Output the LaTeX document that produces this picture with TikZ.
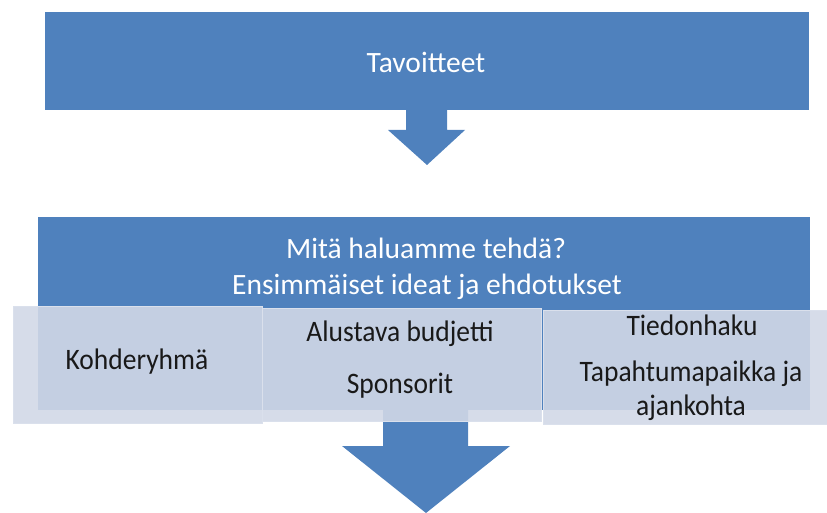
\documentclass[tikz,border=0pt]{standalone}
\usepackage{fontspec}
\setmainfont{Carlito}
\definecolor{blu}{RGB}{79,129,189}
\definecolor{lite}{RGB}{209,216,231}
\definecolor{rim}{RGB}{218,224,236}
\newcommand{\tall}[1]{\scalebox{1}[1.08]{#1}}
\begin{document}
\begin{tikzpicture}[x=1pt,y=-1pt,
  bluebox/.style={fill=blu,draw=none,inner sep=0pt},
  litebox/.style={fill=lite,fill opacity=0.9,draw=rim,line width=1pt,inner sep=0pt},
  wtxt/.style={text=white,font=\fontsize{29.5}{36}\selectfont,align=center,inner sep=0pt},
  btxt/.style={text=black!90,font=\fontsize{27.5}{34}\selectfont,align=center,inner sep=0pt},
  arr/.style={fill=blu,draw=none}]
\useasboundingbox (0,0) rectangle (827,513);
% top box
\node[bluebox,minimum width=764pt,minimum height=98pt] (top) at (427,61) {};
\node[wtxt] (toptxt) at (426,62) {Tavoitteet};
% arrow 1
\fill[arr] (406,109) -- (406,130) -- (388,130) -- (427,165) -- (465,130) -- (447,130) -- (447,109) -- cycle;
% second blue box
\node[bluebox,minimum width=772pt,minimum height=193pt] (mid) at (424,313.5) {};
\node[wtxt] (l1) at (426,248) {Mitä haluamme tehdä?};
\node[wtxt] (l2) at (427,287) {Ensimmäiset ideat ja ehdotukset};
% arrow 2
\fill[arr] (383,405) -- (383,446) -- (342,446) -- (426,513) -- (510,446) -- (468,446) -- (468,405) -- cycle;
% light boxes
\node[litebox,minimum width=249pt,minimum height=117pt] (k) at (137.5,364.5) {};
\node[litebox,minimum width=279pt,minimum height=113pt] (b) at (401.5,364.5) {};
\node[litebox,minimum width=286pt,minimum height=114pt] (t) at (686,367) {};
\node[btxt] (kt) at (137,362) {\tall{Kohderyhmä}};
\node[btxt] (bt1) at (400,334) {\tall{Alustava budjetti}};
\node[btxt] (bt2) at (400,386) {\tall{Sponsorit}};
\node[btxt] (tt1) at (692,325) {\tall{Tiedonhaku}};
\node[btxt] (tt2) at (691,374) {\tall{Tapahtumapaikka ja}};
\node[btxt] (tt3) at (691,408) {\tall{ajankohta}};
\end{tikzpicture}
\end{document}
